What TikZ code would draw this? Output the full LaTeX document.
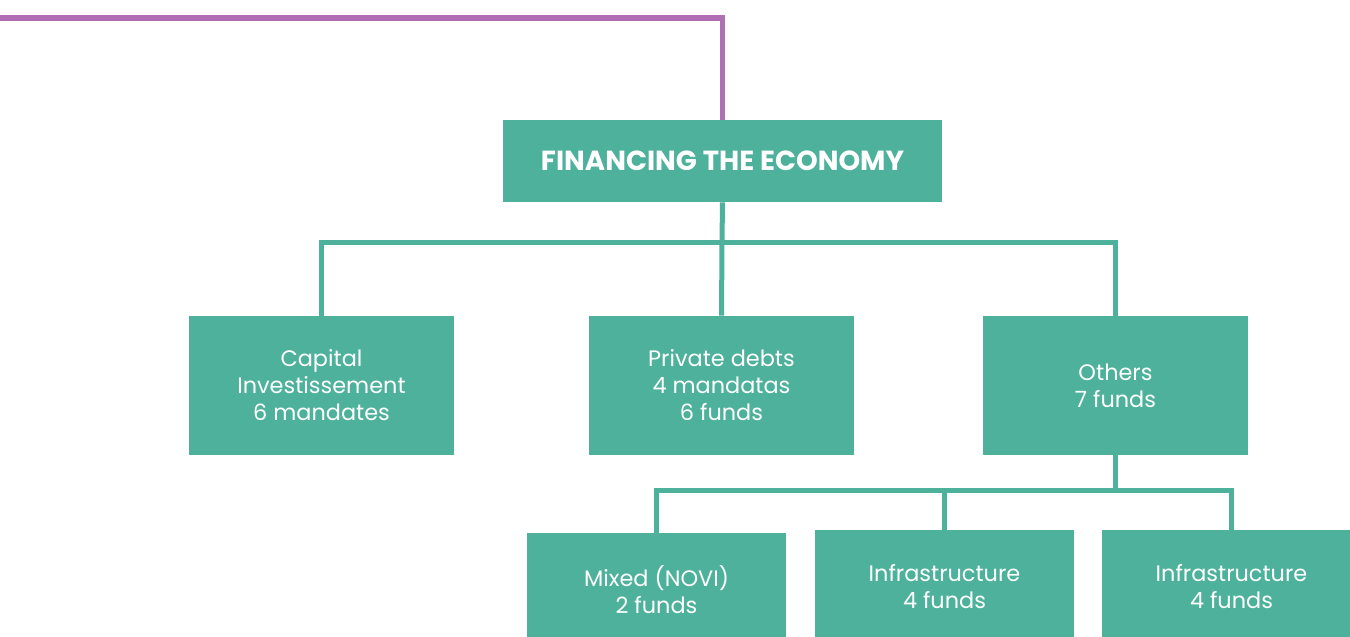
\documentclass[tikz,border=0pt]{standalone}
\usepackage{fontspec}
\setmainfont{Poppins}
\definecolor{teal}{HTML}{4DB19C}
\definecolor{lilac}{HTML}{B06FB3}

\begin{document}
\begin{tikzpicture}[x=0.5pt, y=-0.5pt,
  box/.style={fill=teal, text=white, align=center, inner sep=0pt,
    font=\fontsize{11.2}{13.5}\selectfont},
  midbox/.style={box, minimum width=132.5pt, minimum height=69.5pt},
  lowbox/.style={box, minimum width=129.5pt, minimum height=57pt},
  link/.style={draw=teal, line width=2.5pt},
  lilacline/.style={draw=lilac, line width=2.7pt}]
  \useasboundingbox (0,0) rectangle (1350,637);
  % Top of the chart
  \node[box, minimum width=219.5pt, minimum height=41pt,
    font=\bfseries\fontsize{13.8}{15}\selectfont] (econ) at (722.5,161) {FINANCING THE ECONOMY};
  \coordinate (feed) at (0,18);
  \draw[lilacline] (feed) -| (econ.north);
  % Second row
  \node[midbox] (capinv) at (321.5,385.5) {Capital\\Investissement\\6 mandates};
  \node[midbox] (privdebt) at (721.5,385.5) {Private debts\\4 mandatas\\6 funds};
  \node[midbox] (others) at (1115.5,385.5) {Others\\7 funds};
  \coordinate (bus1) at (722,242);
  \draw[link] (econ.south) -- (bus1);
  \draw[link] (bus1) -| (capinv.north);
  \draw[link] (bus1) -- (privdebt.north);
  \draw[link] (bus1) -| (others.north);
  % Third row
  \node[lowbox] (novi) at (656.5,590) {Mixed (NOVI)\\2 funds};
  \node[lowbox] (infra1) at (944.5,587) {Infrastructure\\4 funds};
  \node[lowbox] (infra2) at (1231.5,587) {Infrastructure\\4 funds};
  \coordinate (bus2) at (1115.5,490);
  \draw[link] (others.south) -- (bus2);
  \draw[link] (bus2) -| (novi.north);
  \draw[link] (bus2) -| (infra1.north);
  \draw[link] (bus2) -| (infra2.north);
\end{tikzpicture}
\end{document}
